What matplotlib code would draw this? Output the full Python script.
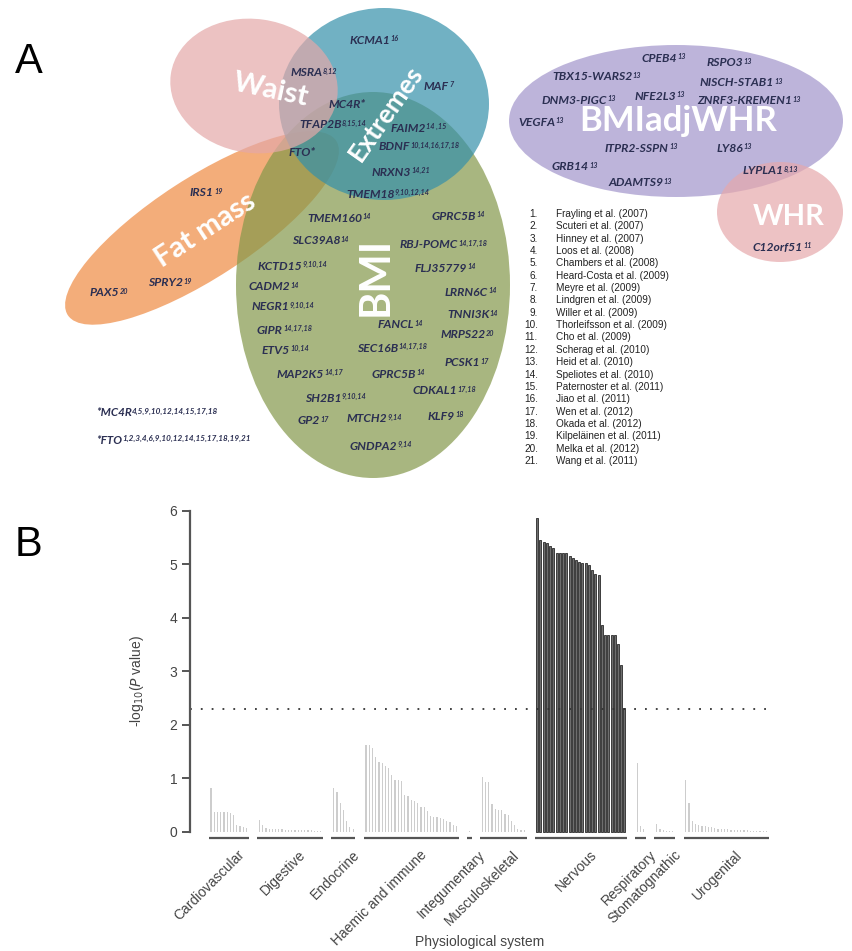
import numpy as np
import matplotlib
matplotlib.use('Agg')
import matplotlib.pyplot as plt
from matplotlib.patches import Ellipse

# ---------------- data ----------------
# obesity-trait loci (name, reference numbers)
venn_genes = [
    ('KCMA1', '16'), ('MSRA', '8,12'), ('MAF', '7'), ('MC4R*', ''),
    ('TFAP2B', '8,15,14'), ('FAIM2', '14 ,15'), ('FTO*', ''),
    ('BDNF', '10,14,16,17,18'), ('NRXN3', '14,21'), ('TMEM18', '9,10,12,14'),
    ('IRS1', '19'), ('SPRY2', '19'), ('PAX5', '20'),
    ('TMEM160', '14'), ('GPRC5B', '14'), ('SLC39A8', '14'),
    ('RBJ-POMC', '14,17,18'), ('KCTD15', '9,10,14'), ('FLJ35779', '14'),
    ('CADM2', '14'), ('LRRN6C', '14'), ('NEGR1', '9,10,14'), ('TNNI3K', '14'),
    ('GIPR', '14,17,18'), ('FANCL', '14'), ('MRPS22', '20'), ('ETV5', '10,14'),
    ('SEC16B', '14,17,18'), ('PCSK1', '17'), ('MAP2K5', '14,17'),
    ('GPRC5B', '14'), ('CDKAL1', '17,18'), ('SH2B1', '9,10,14'),
    ('GP2', '17'), ('MTCH2', '9,14'), ('KLF9', '18'), ('GNDPA2', '9,14'),
]
whr_genes = [
    ('CPEB4', '13'), ('RSPO3', '13'), ('TBX15-WARS2', '13'),
    ('NISCH-STAB1', '13'), ('DNM3-PIGC', '13'), ('NFE2L3', '13'),
    ('ZNRF3-KREMEN1', '13'), ('VEGFA', '13'), ('ITPR2-SSPN', '13'),
    ('LY86', '13'), ('GRB14', '13'), ('LYPLA1', '8,13'), ('ADAMTS9', '13'),
    ('C12orf51', '11'),
]
star_notes = [('*MC4R', '4,5,9,10,12,14,15,17,18'),
              ('*FTO', '1,2,3,4,6,9,10,12,14,15,17,18,19,21')]

references = [
    'Frayling et al. (2007)', 'Scuteri et al. (2007)', 'Hinney et al. (2007)',
    'Loos et al. (2008)', 'Chambers et al. (2008)', 'Heard-Costa et al. (2009)',
    'Meyre et al. (2009)', 'Lindgren et al. (2009)', 'Willer et al. (2009)',
    'Thorleifsson et al. (2009)', 'Cho et al. (2009)', 'Scherag et al. (2010)',
    'Heid et al. (2010)', 'Speliotes et al. (2010)', 'Paternoster et al. (2011)',
    'Jiao et al. (2011)', 'Wen et al. (2012)', 'Okada et al. (2012)',
    'Kilpeläinen et al. (2011)', 'Melka et al. (2012)', 'Wang et al. (2011)',
]

# enrichment per physiological system, -log10(P)
systems = ['Cardiovascular', 'Digestive', 'Endocrine', 'Haemic and immune',
           'Integumentary', 'Musculoskeletal', 'Nervous', 'Respiratory',
           'Stomatognathic', 'Urogenital']
cardiovascular = [0.81, 0.36, 0.36, 0.36, 0.36, 0.36, 0.35, 0.32, 0.12, 0.10, 0.08, 0.07]
digestive = [0.22, 0.12, 0.07, 0.06, 0.06, 0.05, 0.05, 0.05, 0.04, 0.04,
             0.04, 0.04, 0.03, 0.03, 0.03, 0.03, 0.03, 0.02, 0.02, 0.02]
endocrine = [0.81, 0.75, 0.53, 0.41, 0.20, 0.08, 0.05]
haemic = [1.62, 1.62, 1.56, 1.40, 1.31, 1.29, 1.22, 1.19, 1.06, 0.97,
          0.96, 0.94, 0.69, 0.67, 0.60, 0.57, 0.54, 0.47, 0.46, 0.38,
          0.30, 0.27, 0.27, 0.26, 0.23, 0.20, 0.18, 0.13, 0.10]
integumentary = [0.02]
musculoskeletal = [1.02, 0.93, 0.93, 0.52, 0.42, 0.41, 0.41, 0.33, 0.31, 0.20, 0.12, 0.06, 0.04, 0.03]
nervous = [5.87, 5.46, 5.42, 5.39, 5.34, 5.30, 5.21, 5.21, 5.21, 5.20,
           5.16, 5.12, 5.07, 5.04, 5.03, 5.02, 4.99, 4.90, 4.81, 4.80,
           3.86, 3.67, 3.67, 3.67, 3.67, 3.51, 3.12, 2.31]
respiratory = [1.29, 0.10, 0.06]
stomatognathic = [0.14, 0.05, 0.03, 0.02, 0.02, 0.01]
urogenital = [0.97, 0.53, 0.20, 0.15, 0.12, 0.11, 0.10, 0.09, 0.08, 0.07,
              0.06, 0.06, 0.05, 0.05, 0.04, 0.04, 0.04, 0.03, 0.03, 0.03,
              0.02, 0.02, 0.02, 0.02, 0.01, 0.01]
system_values = [cardiovascular, digestive, endocrine, haemic, integumentary,
                 musculoskeletal, nervous, respiratory, stomatognathic, urogenital]
significant = ['Nervous']
threshold = 2.3

# ---------------- layout ----------------
W, H = 852, 951
GENE_FONT = 'Lato'
BIG_FONT = 'Lato'
PLAIN_FONT = 'Liberation Sans'
GENE_C = '#2b2f52'

venn_xy = [
    (350, 40), (291, 73), (424, 86), (329, 105), (299, 125), (391, 128),
    (289, 153), (379, 147), (372, 172), (346, 194),
    (190, 193), (148, 283), (90, 293),
    (307, 218), (432, 216), (292, 241), (400, 245), (258, 266), (415, 268),
    (249, 287), (445, 292), (252, 307), (447, 315), (257, 330), (378, 325),
    (441, 335), (262, 350), (357, 348), (445, 363), (277, 374), (372, 374),
    (413, 391), (305, 398), (298, 421), (347, 419), (428, 416), (350, 446),
]
whr_xy = [
    (642, 58), (707, 63), (552, 77), (700, 83), (542, 100), (635, 96),
    (697, 101), (518, 122), (605, 148), (717, 148), (552, 167), (743, 171),
    (608, 183), (753, 247),
]

fig = plt.figure(figsize=(W / 100, H / 100), dpi=100)
ax = fig.add_axes([0, 0, 1, 1])
ax.set_xlim(0, W)
ax.set_ylim(H, 0)
ax.axis('off')

# trait sets, drawn bottom to top
sets = [
    # (cx, cy, w, h, angle, colour)
    (202, 228, 320, 100, -33, '#ef8a42'),   # fat mass
    (373, 285, 274, 386, 0, '#84984a'),     # BMI
    (384, 104, 210, 192, 0, '#3590aa'),     # extremes
    (254, 86, 168, 134, 8, '#e4a8a8'),      # waist
    (676, 121, 334, 152, 0, '#a295cb'),     # BMIadjWHR
    (780, 212, 126, 100, 0, '#e6a8ab'),     # WHR
]
for i, (cx, cy, w, h, ang, c) in enumerate(sets):
    ax.add_patch(Ellipse((cx, cy), w, h, angle=ang, facecolor=c,
                         edgecolor='none', alpha=0.7, zorder=1 + i))

big = dict(color='white', weight='bold', family=BIG_FONT, ha='center',
           va='center', zorder=10, rotation_mode='anchor')
ax.text(271, 90, 'Waist', fontsize=21, rotation=-12, **big)
ax.text(386, 113, 'Extremes', fontsize=19, rotation=55, **big)
ax.text(205, 230, 'Fat mass', fontsize=21, rotation=33, **big)
ax.text(376, 276, 'BMI', fontsize=30, rotation=90, **big)
ax.text(678, 121, 'BMIadjWHR', fontsize=25, **big)
ax.text(789, 217, 'WHR', fontsize=21, **big)


def gene(x, y, name, refs, size=8.7, sup=0.6):
    t = ax.text(x, y, name, fontsize=size, style='italic', weight='bold',
                color=GENE_C, family=GENE_FONT, ha='left', va='center', zorder=12)
    if refs:
        ax.annotate(refs, xy=(1, 0.95), xycoords=t, xytext=(0, 0),
                    textcoords='offset points', fontsize=size * sup,
                    style='italic', weight='bold', color=GENE_C,
                    family=GENE_FONT, ha='left', va='top', zorder=12,
                    annotation_clip=False)


for (name, refs), (x, y) in zip(venn_genes, venn_xy):
    gene(x, y, name, refs)
for (name, refs), (x, y) in zip(whr_genes, whr_xy):
    gene(x, y, name, refs)
for k, (name, refs) in enumerate(star_notes):
    gene(96, 413 + 27 * k, name, refs, size=8.4, sup=0.7)

# reference list
for k, ref in enumerate(references):
    y = 214 + k * 12.35
    ax.text(538, y, f'{k + 1}.', fontsize=7.2, family=PLAIN_FONT,
            color='#222222', ha='right', va='center')
    ax.text(556, y, ref, fontsize=7.2, family=PLAIN_FONT,
            color='#222222', ha='left', va='center')

ax.text(29, 62, 'A', fontsize=30, family=PLAIN_FONT, ha='center', va='center')
ax.text(29, 545, 'B', fontsize=30, family=PLAIN_FONT, ha='center', va='center')

# ---------------- panel B ----------------
gap = 3
positions = []
pos = 0
for vals in system_values:
    positions.append(np.arange(pos, pos + len(vals)))
    pos += len(vals) + gap
last = positions[-1][-1]

bx = fig.add_axes([190 / W, 1 - 847.8 / H, (771.4 - 190) / W, (847.8 - 508) / H])
bx.set_xlim(-6.5, last + 1.5)
bx.set_ylim(-0.3, 6.05)
bx.patch.set_alpha(0)

grey = '#555555'
for name, xs, vals in zip(systems, positions, system_values):
    if name in significant:
        bx.bar(xs, vals, width=0.62, color='#6e6e6e', edgecolor='#2a2a2a',
               linewidth=0.6)
    else:
        bx.bar(xs, vals, width=0.38, color='#cdcdcd', linewidth=0)
    bx.plot([xs[0] - 0.7, xs[-1] + 0.7], [-0.12, -0.12], color=grey,
            lw=1.6, solid_capstyle='butt', clip_on=False)
    bx.text(xs.mean() + 2.7, -0.3, name, rotation=45, rotation_mode='anchor',
            ha='right', va='top', fontsize=10, family=PLAIN_FONT,
            color='#444444', clip_on=False)

bx.axhline(threshold, color='#333333', lw=1.3, linestyle=(0, (1, 5)))

for s in ['top', 'right', 'bottom']:
    bx.spines[s].set_visible(False)
bx.spines['left'].set_bounds(0, 6)
bx.spines['left'].set_color(grey)
bx.spines['left'].set_linewidth(1.6)
bx.set_xticks([])
bx.set_yticks(range(7))
bx.tick_params(axis='y', length=6, width=1.4, color=grey, labelsize=10,
               labelcolor='#444444', pad=3)
for lab in bx.get_yticklabels():
    lab.set_family(PLAIN_FONT)
bx.set_ylabel('-log$_{10}$($P$ value)', fontsize=10, color='#444444',
              family=PLAIN_FONT)
bx.yaxis.set_label_coords(-(190 - 146) / 582, 0.49)

fig.text(480 / W, 1 - 942 / H, 'Physiological system', fontsize=10,
         family=PLAIN_FONT, color='#444444', ha='center', va='center')

fig.savefig('out.png', dpi=100)
